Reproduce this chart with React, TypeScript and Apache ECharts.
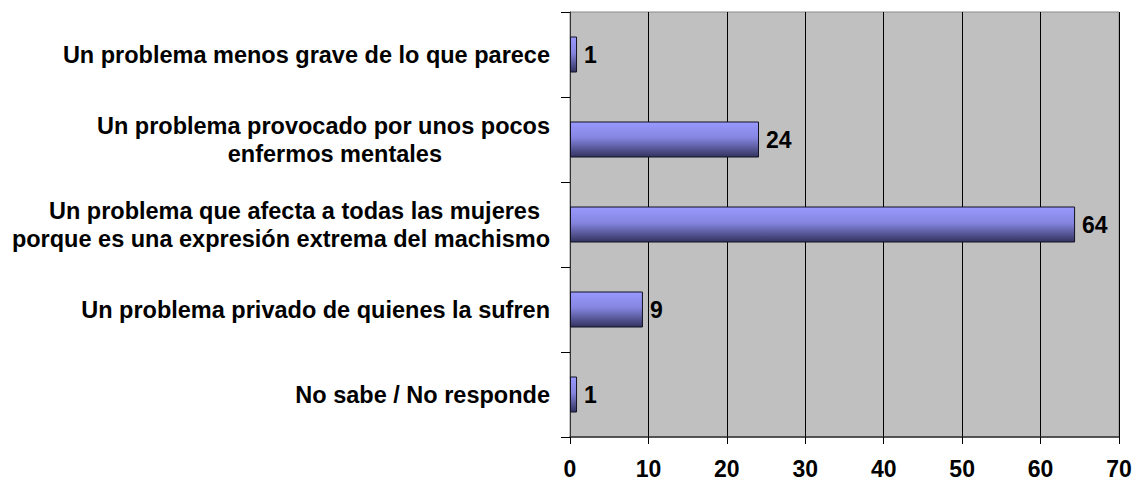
import React, { useEffect, useRef } from "react";
import * as echarts from "echarts";

const categories = [
  "Un problema menos grave de lo que parece",
  "Un problema provocado por unos pocos\nenfermos mentales",
  "Un problema que afecta a todas las mujeres\nporque es una expresión extrema del machismo",
  "Un problema privado de quienes la sufren",
  "No sabe / No responde",
];
const values = [0.9, 24.1, 64.4, 9.3, 0.9];
const xTicks = { min: 0, max: 70, interval: 10 };

const FONT = "'Liberation Sans', Arial, sans-serif";

export default function App() {
  const ref = useRef<HTMLDivElement>(null);
  useEffect(() => {
    document.body.style.margin = "0";
    document.body.style.overflow = "hidden";
    if (!ref.current) return;
    const chart = echarts.init(ref.current, undefined, { renderer: "svg" });
    const base = { fontFamily: FONT, fontWeight: "bold", fontSize: 23.5, lineHeight: 28, color: "#000", align: "right" };
    const lineStyles: Record<string, string[]> = { "1": ["r", "m2"], "2": ["m3", "r"] };
    chart.setOption({
      animation: false,
      grid: { left: 570, right: 17, top: 12, bottom: 49, show: true, backgroundColor: "#C0C0C0", borderColor: "#8a8a8a", borderWidth: 1 },
      xAxis: {
        type: "value",
        min: xTicks.min,
        max: xTicks.max,
        interval: xTicks.interval,
        axisLine: { show: true, lineStyle: { color: "#333", width: 1.5 } },
        axisTick: { show: true, length: 7, lineStyle: { color: "#000" } },
        splitLine: { show: true, lineStyle: { color: "#000", width: 1 } },
        axisLabel: { color: "#000", fontFamily: FONT, fontWeight: "bold", fontSize: 23, margin: 20 },
      },
      yAxis: {
        type: "category",
        inverse: true,
        data: categories,
        axisLine: { show: true, lineStyle: { color: "#333" } },
        axisTick: { show: true, length: 9, lineStyle: { color: "#000" } },
        axisLabel: {
          color: "#000",
          fontFamily: FONT,
          fontWeight: "bold",
          fontSize: 23.5,
          margin: 20,
          lineHeight: 28,
          formatter: (v: string, i: number) => {
            if (!v.includes("\n")) return v;
            const st = lineStyles[String(i)] || ["r", "r"];
            return v.split("\n").map((l, k) => `{${st[k] || "r"}|${l}}`).join("\n");
          },
          rich: {
            r: { ...base },
            m2: { ...base, padding: [0, 108, 0, 0] },
            m3: { ...base, padding: [0, 10, 0, 0] },
          },
        },
      },
      series: [
        {
          type: "bar",
          data: values,
          barWidth: 36,
          itemStyle: {
            color: new echarts.graphic.LinearGradient(0, 0, 0, 1, [
              { offset: 0, color: "#9999FF" },
              { offset: 0.45, color: "#8585E0" },
              { offset: 1, color: "#33335F" },
            ]),
            borderColor: "#111122",
            borderWidth: 1,
          },
          label: {
            show: true,
            position: "right",
            distance: 7,
            color: "#000",
            fontFamily: FONT,
            fontWeight: "bold",
            fontSize: 23,
            formatter: (p: any) => String(Math.round(p.value)),
          },
        },
      ],
    });
    return () => chart.dispose();
  }, []);
  return <div ref={ref} style={{ width: 1136, height: 486 }} />;
}
